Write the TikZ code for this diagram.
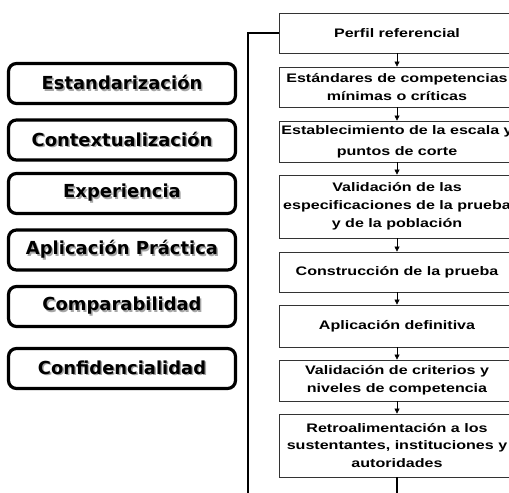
\documentclass[tikz,border=0pt]{standalone}
\usepackage{fontspec}
\newfontfamily\valuefont{DejaVu Sans}
\newfontfamily\stepfont{Liberation Sans}[FakeStretch=1.3]
\usetikzlibrary{arrows.meta}
\newcommand\shtext[1]{\rlap{\kern1.5pt\raisebox{-1.5pt}{\textcolor{black!35}{#1}}}#1}

\begin{document}
\begin{tikzpicture}[x=1bp, y=-1bp,
  value/.style={draw, line width=3.2pt, rounded corners=8pt, minimum width=227bp, minimum height=40bp, inner sep=0pt, font=\valuefont\bfseries\fontsize{18}{20}\selectfont},
  stepbox/.style={draw=black!80, line width=0.8pt, fill=white, minimum width=236bp, inner sep=0pt, align=center, font=\stepfont\bfseries\fontsize{12.4}{18}\selectfont},
  flow/.style={-{Triangle[width=5pt,length=5pt]}, line width=0.6pt},
  feed/.style={line width=2.6pt}]
\clip (0,0) rectangle (509,493);
% values on the left
\node[value] (estandar) at (122,83.5) {\shtext{Estandarización}};
\node[value] (contexto) at (122,140) {\shtext{Contextualización}};
\node[value] (experiencia) at (122,193.5) {\shtext{Experiencia}};
\node[value] (aplicpract) at (122,250) {\shtext{Aplicación Práctica}};
\node[value] (compara) at (122,306.5) {\shtext{Comparabilidad}};
\node[value] (confid) at (122,368.5) {\shtext{Confidencialidad}};
% steps on the right
\node[stepbox, minimum height=40bp] (perfil) at (397,33) {Perfil referencial};
\node[stepbox, minimum height=40bp] (estandares) at (397,87) {Estándares de competencias\\mínimas o críticas};
\node[stepbox, minimum height=41bp] (escala) at (397,141.5) {Establecimiento de la escala y\\[3pt]puntos de corte};
\node[stepbox, minimum height=63bp] (validesp) at (397,206.5) {Validación de las\\especificaciones de la prueba\\y de la población};
\node[stepbox, minimum height=40bp] (construc) at (397,272) {Construcción de la prueba};
\node[stepbox, minimum height=42bp] (aplicdef) at (397,326) {Aplicación definitiva};
\node[stepbox, minimum height=41bp] (validcrit) at (397,380.5) {Validación de criterios y\\niveles de competencia};
\node[stepbox, minimum height=63bp] (retro) at (397,445.5) {Retroalimentación a los\\sustentantes, instituciones y\\autoridades};
\foreach \a/\b in {perfil/estandares, estandares/escala, escala/validesp, validesp/construc, construc/aplicdef, aplicdef/validcrit, validcrit/retro}
  \draw[flow] (\a) -- (\b);
% feedback line
\coordinate (lowleft) at (248,497);
\coordinate (lowmid) at (397,497);
\draw[feed] (perfil.west) -| (lowleft);
\draw[feed] (retro) -- (lowmid);
\end{tikzpicture}
\end{document}
